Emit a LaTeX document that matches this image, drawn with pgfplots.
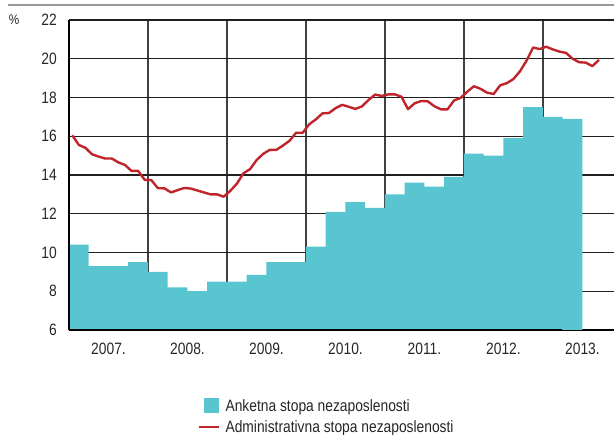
\documentclass[border=0pt]{standalone}
\usepackage{fontspec}
\setmainfont{Liberation Sans}[FakeStretch=0.84]
\usepackage{pgfplots}
\usepackage{pgfplotstable}
\pgfplotsset{compat=1.18}
\definecolor{barcol}{HTML}{58C5D0}
\definecolor{linecol}{HTML}{C0252B}
\pgfplotstableread{
x v
2007.00 10.4
2007.25 9.3
2007.50 9.3
2007.75 9.5
2008.00 9.0
2008.25 8.2
2008.50 8.0
2008.75 8.5
2009.00 8.5
2009.25 8.85
2009.50 9.5
2009.75 9.5
2010.00 10.3
2010.25 12.1
2010.50 12.6
2010.75 12.3
2011.00 13.0
2011.25 13.6
2011.50 13.4
2011.75 13.9
2012.00 15.1
2012.25 15.0
2012.50 15.9
2012.75 17.5
2013.00 17.0
2013.25 16.9
2013.50 16.9
}\anketna
\pgfplotstableread{
m v
0 16.05
1 15.55
2 15.40
3 15.07
4 14.95
5 14.85
6 14.85
7 14.65
8 14.52
9 14.21
10 14.21
11 13.75
12 13.74
13 13.32
14 13.31
15 13.10
16 13.22
17 13.33
18 13.30
19 13.20
20 13.10
21 13.00
22 13.00
23 12.88
24 13.18
25 13.55
26 14.09
27 14.30
28 14.77
29 15.09
30 15.30
31 15.30
32 15.52
33 15.77
34 16.18
35 16.18
36 16.62
37 16.87
38 17.18
39 17.20
40 17.45
41 17.62
42 17.52
43 17.41
44 17.54
45 17.87
46 18.15
47 18.08
48 18.16
49 18.16
50 18.04
51 17.40
52 17.70
53 17.82
54 17.80
55 17.55
56 17.39
57 17.39
58 17.85
59 17.98
60 18.30
61 18.58
62 18.45
63 18.25
64 18.18
65 18.63
66 18.74
67 18.95
68 19.35
69 19.90
70 20.58
71 20.50
72 20.62
73 20.48
74 20.37
75 20.30
76 20.00
77 19.82
78 19.80
79 19.62
80 19.94
}\admin
\begin{document}
\begin{tikzpicture}
\path[use as bounding box] (0,0) rectangle (614bp,435bp);
\draw[color=black!40, line width=1.8bp] (8bp,430bp) -- (614bp,430bp);
\begin{axis}[
  at={(69bp,105bp)}, anchor=south west,
  scale only axis, width=545bp, height=310bp,
  xmin=2007, xmax=2013.899, ymin=6, ymax=22,
  ytick={6,8,10,12,14,16,18,20,22},
  xtick={2007.5,2008.5,2009.5,2010.5,2011.5,2012.5,2013.5},
  xticklabels={2007.,2008.,2009.,2010.,2011.,2012.,2013.},
  minor xtick={2008,2009,2010,2011,2012,2013},
  xminorgrids=true, xmajorgrids=false, ymajorgrids=true,
  major tick length=0pt, minor tick length=0pt,
  axis x line*=bottom, axis y line*=left,
  x axis line style={line width=2bp, black},
  y axis line style={line width=1.4bp, black},
  major grid style={line width=1.2bp, black!88},
  minor grid style={line width=1.4bp, black!75},
  /pgf/number format/assume math mode=true,
  tick label style={font=\fontsize{16.5}{19}\selectfont, text=black!85},
  yticklabel style={inner xsep=0pt, xshift=-12bp},
  xticklabel style={inner ysep=0pt, yshift=-13bp, anchor=north},
  ylabel={\%},
  every axis y label/.style={at={(rel axis cs:0,1)}, anchor=center, xshift=-55bp, font=\fontsize{14}{16}\selectfont, text=black!85},
  legend style={draw=none, fill=none, at={(axis description cs:0.2367,-0.216)}, anchor=north west,
    font=\fontsize{16.5}{19}\selectfont, text=black!85, inner sep=0pt, row sep=4bp,
    nodes={inner xsep=5bp}},
  legend cell align=left,
]
\addplot[const plot, fill=barcol, draw=none,
  legend image code/.code={\fill[barcol] (5bp,-7.5bp) rectangle (20bp,7.5bp);}]
  table[x=x, y=v] {\anketna} \closedcycle;
\addlegendentry{Anketna stopa nezaposlenosti}
\addplot[linecol, line width=2.4bp, line join=round,
  legend image code/.code={\draw[linecol, line width=2.4bp] (0bp,0bp) -- (20bp,0bp);}]
  table[x expr={2007+(\thisrow{m}+0.5)/12}, y=v] {\admin};
\addlegendentry{Administrativna stopa nezaposlenosti}
\draw[black, line width=1.4bp] (rel axis cs:0,0) -- (rel axis cs:0,1);
\draw[black, line width=2bp] (rel axis cs:0,0) -- (rel axis cs:0.905,0);
\end{axis}
\end{tikzpicture}
\end{document}
